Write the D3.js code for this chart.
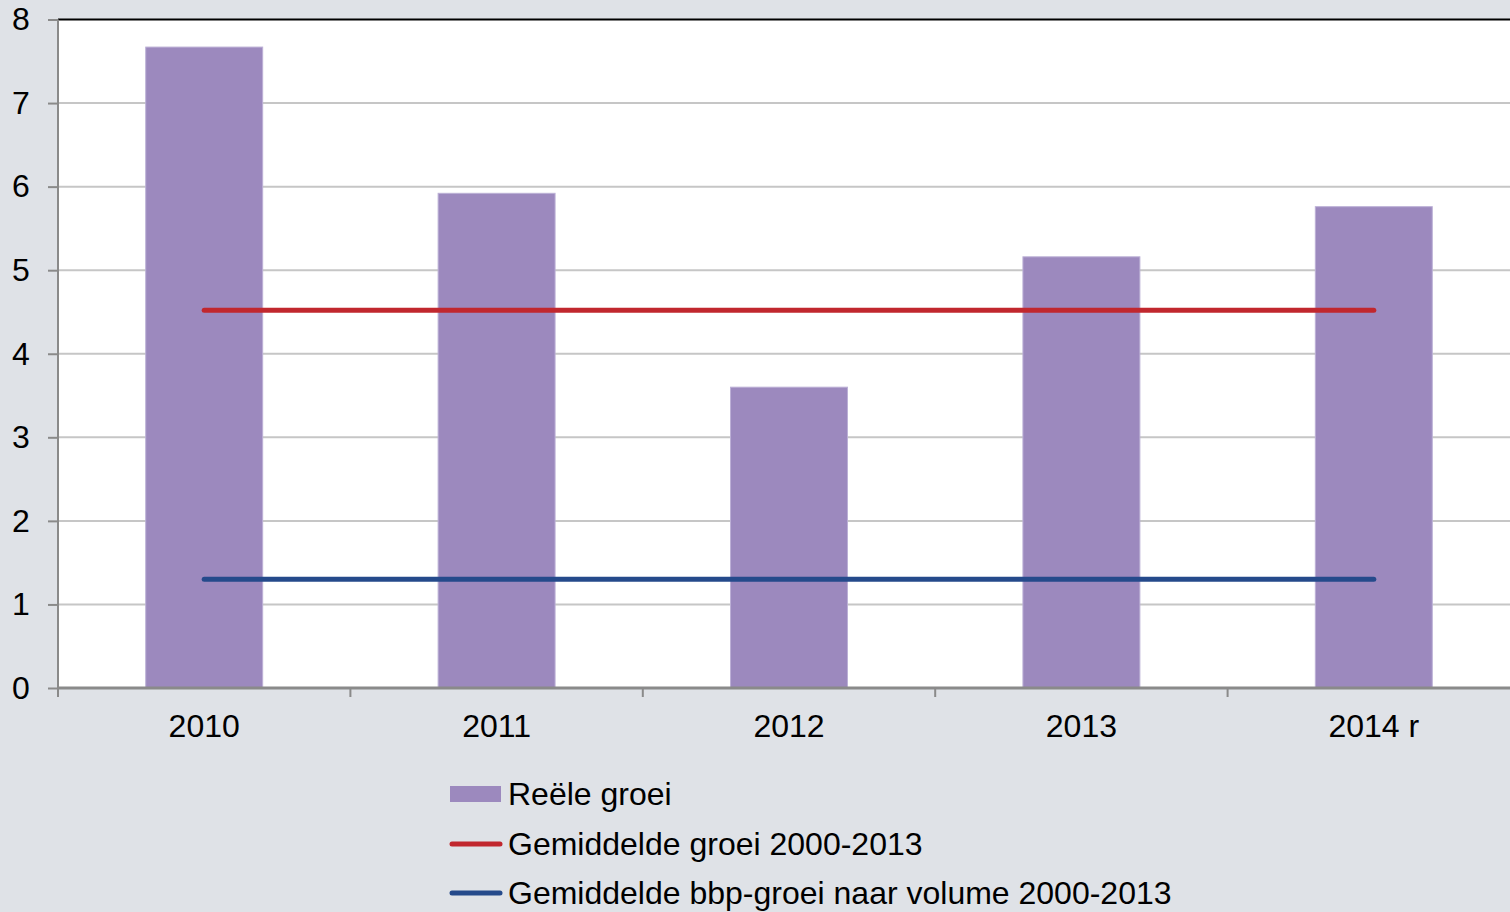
<!DOCTYPE html>
<html><head><meta charset="utf-8">
<script src="https://cdn.jsdelivr.net/npm/d3@7"></script>
<style>body{margin:0;background:#dfe2e7;overflow:hidden}svg{display:block}</style>
</head><body>
<svg id="c" width="1510" height="912"></svg>
<script>
const categories = ["2010","2011","2012","2013","2014 r"];
const reeleGroei = [7.67, 5.92, 3.60, 5.16, 5.76];
const gemGroei = [4.52, 4.52, 4.52, 4.52, 4.52];
const gemBbpGroei = [1.30, 1.30, 1.30, 1.30, 1.30];
const yTicks = [0,1,2,3,4,5,6,7,8];
const legendLabels = ["Reële groei","Gemiddelde groei 2000-2013","Gemiddelde bbp-groei naar volume 2000-2013"];

const svg = d3.select("#c");
const font = "'Liberation Sans', Arial, sans-serif";
const L = 58, R = 1520, T = 19.5, B = 688;
const x = d3.scaleBand().domain(categories).range([L, R]).paddingInner(0.6).paddingOuter(0.3);
const xc = d => x(d) + x.bandwidth()/2;
const y = d3.scaleLinear().domain([0,8]).range([B, T]);

svg.append("rect").attr("x",L).attr("y",T).attr("width",R-L).attr("height",B-T).attr("fill","#fff");
// gridlines
svg.append("g").selectAll("line").data(yTicks.filter(t=>t>0 && t<8)).join("line")
  .attr("x1",L).attr("x2",R).attr("y1",d=>y(d)).attr("y2",d=>y(d))
  .attr("stroke","#c6c6c6").attr("stroke-width",2);
svg.append("line").attr("x1",L).attr("x2",R).attr("y1",y(8)).attr("y2",y(8)).attr("stroke","#000").attr("stroke-width",2);

// bars
svg.append("g").selectAll("rect").data(categories).join("rect")
  .attr("x",d=>x(d)).attr("width",x.bandwidth())
  .attr("y",(d,i)=>y(reeleGroei[i])).attr("height",(d,i)=>B-y(reeleGroei[i]))
  .attr("fill","#9c89be").attr("stroke","#bcb0d6").attr("stroke-width",1);

// lines
const line = d3.line().x((d,i)=>xc(categories[i])).y(d=>y(d));
svg.append("path").datum(gemGroei).attr("d",line).attr("fill","none").attr("stroke","#c1272e").attr("stroke-width",5).attr("stroke-linecap","round");
svg.append("path").datum(gemBbpGroei).attr("d",line).attr("fill","none").attr("stroke","#254a8b").attr("stroke-width",5).attr("stroke-linecap","round");

// y axis
const ya = svg.append("g").attr("transform",`translate(${L},0)`)
  .call(d3.axisLeft(y).tickValues(yTicks).tickSize(10).tickPadding(14).tickFormat(d3.format("d")));
ya.select(".domain").attr("stroke","#8a8a8a").attr("stroke-width",2).attr("d",`M0,${T}V${B}`);
ya.selectAll(".tick line").attr("stroke","#8a8a8a").attr("stroke-width",2);
ya.selectAll(".tick text").attr("font-family",font).attr("font-size",32).attr("fill","#000").attr("x",-37).attr("text-anchor","middle");

// x axis
const xa = svg.append("g").attr("transform",`translate(0,${B})`);
xa.append("line").attr("x1",L).attr("x2",R).attr("stroke","#8a8a8a").attr("stroke-width",3);
const bounds = categories.map(d=>x(d) - x.step()*0.3);
xa.selectAll("line.t").data(bounds).join("line").attr("class","t")
  .attr("x1",d=>d).attr("x2",d=>d).attr("y1",0).attr("y2",9).attr("stroke","#8a8a8a").attr("stroke-width",2);
xa.selectAll("text").data(categories).join("text")
  .attr("x",d=>xc(d)).attr("y",49).attr("text-anchor","middle")
  .attr("font-family",font).attr("font-size",32).attr("fill","#000").text(d=>d);

// legend
const lg = svg.append("g");
const lys = [794, 844, 893];
lg.append("rect").attr("x",450).attr("y",lys[0]-8).attr("width",51).attr("height",16).attr("fill","#9c89be");
lg.append("line").attr("x1",452).attr("x2",500).attr("y1",lys[1]).attr("y2",lys[1]).attr("stroke","#c1272e").attr("stroke-width",5).attr("stroke-linecap","round");
lg.append("line").attr("x1",452).attr("x2",500).attr("y1",lys[2]).attr("y2",lys[2]).attr("stroke","#254a8b").attr("stroke-width",5).attr("stroke-linecap","round");
lg.selectAll("text").data(legendLabels).join("text")
  .attr("x",508).attr("y",(d,i)=>lys[i]+11).attr("font-family",font).attr("font-size",32).attr("fill","#000").text(d=>d);
</script>
</body></html>
